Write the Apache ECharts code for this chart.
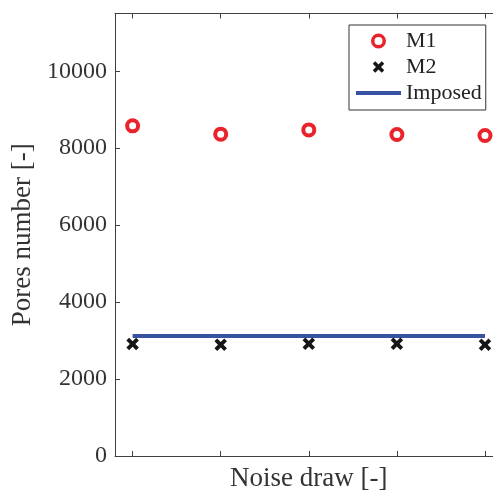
<!DOCTYPE html>
<html>
<head>
<meta charset="utf-8">
<script src="https://cdn.jsdelivr.net/npm/echarts@6/dist/echarts.min.js"></script>
<style>html,body{margin:0;padding:0;background:#fff;}#c{width:493px;height:492px;}</style>
</head>
<body>
<div id="c"></div>
<script>
const draws = [1, 2, 3, 4, 5];
const m1 = [8580, 8365, 8475, 8355, 8330];
const m2 = [2910, 2890, 2920, 2920, 2890];
const imposed = [3120, 3120, 3120, 3120, 3120];
const yTicks = [0, 2000, 4000, 6000, 8000, 10000];
const seriesNames = ['M1', 'M2', 'Imposed'];

const FONT = '"Liberation Serif", "DejaVu Serif", serif';
const AX = '#404040';
const RED = '#e8232b';
const BLUE = '#3953a4';
const xPath = 'path://M0,2.2 L2.2,0 L5,2.8 L7.8,0 L10,2.2 L7.2,5 L10,7.8 L7.8,10 L5,7.2 L2.2,10 L0,7.8 L2.8,5 Z';
const linePath = 'path://M0,0 L45,0 L45,4 L0,4 Z';

const zip = (xs, ys) => xs.map((x, i) => [x, ys[i]]);

const chart = echarts.init(document.getElementById('c'), null, {renderer: 'canvas'});
const xBase = {
  type: 'value', min: 0.8, max: 5.2,
  axisLine: {show: true, onZero: false, lineStyle: {color: AX, width: 1}},
  axisTick: {show: true, inside: true, length: 5, customValues: draws, lineStyle: {color: AX}},
  axisLabel: {show: false},
  splitLine: {show: false}
};
const yBase = {
  type: 'value', min: 0, max: 11500,
  axisLine: {show: true, onZero: false, lineStyle: {color: AX, width: 1}},
  axisTick: {show: true, inside: true, length: 5, customValues: yTicks, lineStyle: {color: AX}},
  splitLine: {show: false}
};
chart.setOption({
  animation: false,
  backgroundColor: '#fff',
  grid: {left: 115, top: 13.5, right: -9.6, bottom: 36, containLabel: false, outerBoundsMode: 'none'},
  xAxis: [
    Object.assign({}, xBase, {
      position: 'bottom',
      name: 'Noise draw [-]', nameLocation: 'middle', nameGap: 9,
      nameTextStyle: {fontFamily: FONT, fontSize: 27, color: '#333'}
    }),
    Object.assign({}, xBase, {position: 'top'})
  ],
  yAxis: [
    Object.assign({}, yBase, {
      position: 'left',
      axisLabel: {show: true, customValues: yTicks, formatter: v => String(v),
        fontFamily: FONT, fontSize: 24, color: '#333', margin: 8},
      name: 'Pores number [-]', nameLocation: 'middle', nameGap: 75,
      nameTextStyle: {fontFamily: FONT, fontSize: 27, color: '#333'}
    }),
    Object.assign({}, yBase, {position: 'right', axisLabel: {show: false}})
  ],
  legend: {
    data: [
      {name: seriesNames[0], icon: 'circle',
        itemStyle: {color: '#ffffff', borderColor: RED, borderWidth: 3.5}},
      {name: seriesNames[1], icon: xPath},
      {name: seriesNames[2], icon: linePath}
    ],
    orient: 'vertical',
    left: 349, top: 25,
    padding: [5, 4, 6, 7],
    itemGap: 4,
    itemWidth: 45, itemHeight: 11.5,
    backgroundColor: '#fff',
    borderColor: '#333', borderWidth: 1, borderRadius: 0,
    textStyle: {fontFamily: FONT, fontSize: 22, color: '#222', lineHeight: 22}
  },
  series: [
    {
      name: 'M1', type: 'scatter', data: zip(draws, m1),
      symbol: 'circle', symbolSize: 11,
      itemStyle: {color: '#ffffff', borderColor: RED, borderWidth: 4, opacity: 1},
      z: 3
    },
    {
      name: 'M2', type: 'scatter', data: zip(draws, m2),
      symbol: xPath, symbolSize: 12.5,
      itemStyle: {color: '#161616', opacity: 1},
      z: 3
    },
    {
      name: 'Imposed', type: 'line', data: zip(draws, imposed),
      symbol: 'none', showSymbol: false,
      lineStyle: {color: BLUE, width: 4},
      itemStyle: {color: BLUE},
      z: 2
    }
  ]
});
</script>
</body>
</html>
